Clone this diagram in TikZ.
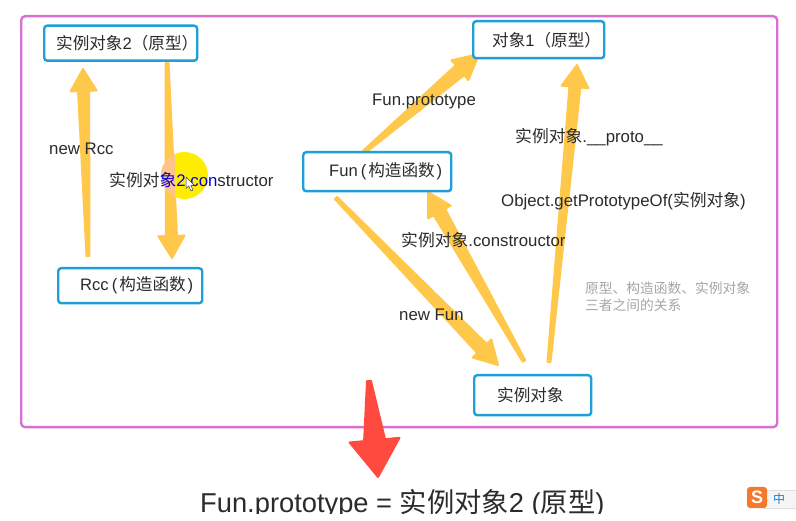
\documentclass[tikz,border=0pt]{standalone}
\usepackage{fontspec}
\setmainfont{Liberation Sans}
\newfontfamily\cjk{Noto Sans CJK SC}
\usetikzlibrary{calc}
\definecolor{frameC}{HTML}{D96FD3}
\definecolor{boxC}{HTML}{1E9FD8}
\definecolor{arrowC}{HTML}{FFC84B}
\definecolor{redC}{HTML}{FF4A3F}
\definecolor{txtC}{HTML}{2B2B2B}
\definecolor{grayC}{HTML}{A6A6A6}
\definecolor{sogouC}{HTML}{F4792B}
\newcommand{\taperarrow}[7]{%
  \coordinate (tb) at ($(#2)!#5!(#1)$);
  \fill[#7,draw=#7,line width=2pt,line join=round]
    ($(#1)!#3!90:(#2)$) -- ($(tb)!#4!90:(#2)$) -- ($(tb)!#6!90:(#2)$) -- (#2)
    -- ($(tb)!#6!-90:(#2)$) -- ($(tb)!#4!-90:(#2)$) -- ($(#1)!#3!-90:(#2)$) -- cycle;
}
\tikzset{
  box/.style args={#1/#2}{draw=boxC,line width=2.4pt,rounded corners=3pt,fill=white,
    minimum width=#1pt,minimum height=#2pt,inner xsep=0pt,inner ysep=0pt,
    text width=#1pt,align=left,anchor=north west,text=txtC,font=\fontsize{16.6}{18}\selectfont},
  lab/.style={anchor=west,inner sep=0pt,text=txtC,font=\fontsize{16.8}{18}\selectfont},
  note/.style={anchor=west,inner sep=0pt,text=grayC,font=\fontsize{13.75}{17}\selectfont},
}
\begin{document}
\begin{tikzpicture}[x=1pt,y=-1pt]
\useasboundingbox (0,0) rectangle (796,521);
\fill[white] (0,0) rectangle (796,521);
\node[draw=frameC,line width=2.4pt,rounded corners=4pt,minimum width=756pt,minimum height=411pt,anchor=north west,inner sep=0pt] (frame) at (20,15) {};

% arrow end points
\coordinate (a1) at (88,256);  \coordinate (a2) at (83,69);
\coordinate (b1) at (167,63);  \coordinate (b2) at (172,258);
\coordinate (c1) at (364,152); \coordinate (c2) at (479,54);
\coordinate (d1) at (336,198); \coordinate (d2) at (498,365);
\coordinate (e1) at (524,361); \coordinate (e2) at (428,192);
\coordinate (f1) at (549,362); \coordinate (f2) at (577,65);
\coordinate (r1) at (369,381); \coordinate (r2) at (378,477);

\taperarrow{a1}{a2}{1.5pt}{5.5pt}{22pt}{13pt}{arrowC}
\taperarrow{b1}{b2}{1.5pt}{5.5pt}{22pt}{13pt}{arrowC}
\taperarrow{c1}{c2}{1.5pt}{6.5pt}{25pt}{13pt}{arrowC}
\taperarrow{d1}{d2}{1.5pt}{6.5pt}{23pt}{13pt}{arrowC}
\taperarrow{e1}{e2}{1.5pt}{6.5pt}{23pt}{13pt}{arrowC}
\taperarrow{f1}{f2}{1.5pt}{5.5pt}{22pt}{13.5pt}{arrowC}
\taperarrow{r1}{r2}{2pt}{10.5pt}{37pt}{25pt}{redC}

% highlight circle
\fill[yellow!95!orange] (184.5,175.5) circle (23.5);
\begin{scope}
  \clip (150,150) rectangle (175,200);
  \fill[arrowC!45!pink] (184.5,175.5) circle (23.5);
\end{scope}

% boxes
\node[box=153/35] (inst2) at (43,24.5) {\hspace*{12pt}{\cjk 实例对象}2{\cjk （原型）}};
\node[box=144/35] (rcc) at (57,267) {\hspace*{22pt}Rcc\hspace{3pt}({\hspace{2pt}\cjk 构造函数}\hspace{2pt})};
\node[box=131/37] (obj1) at (472,20) {\hspace*{19pt}{\cjk 对象}1{\cjk （原型）}};
\node[box=148/39] (fun) at (302,151) {\hspace*{26pt}Fun\hspace{3pt}({\hspace{2pt}\cjk 构造函数}\hspace{2pt})};
\node[box=117/40] (inst) at (473,374) {\hspace*{23pt}{\cjk 实例对象}};

% labels
\node[lab] (l1) at (49,148.5) {new Rcc};
\node[lab] (l2) at (109,180.5) {{\cjk 实例对}\textcolor{blue!85!black}{{\cjk 象}2.con}structor};
\node[lab] (l3) at (372,101.5) {Fun.prototype};
\node[lab] (l4) at (515,137.5) {{\cjk 实例对象}.\_\_proto\_\_};
\node[lab] (l5) at (501,201) {Object.getPrototypeOf({\cjk 实例对象})};
\node[lab] (l6) at (401,240.5) {{\cjk 实例对象}.constrouctor};
\node[lab] (l7) at (399,315) {new Fun};
\node[note,align=left] (n1) at (585,296.5) {{\cjk 原型、构造函数、实例对象}\\{\cjk 三者之间的关系}};

% mouse pointer
\fill[white,draw=black!75,line width=.5pt,line join=round]
  (186,177) -- (186,188.5) -- (188.8,186) -- (191,191) -- (193,190) -- (190.8,185.3) -- (194,185) -- cycle;

% bottom line, cut off by the lower edge of the capture
\begin{scope}
  \clip (0,480) rectangle (796,513);
  \node[anchor=base west,inner sep=0pt,text=txtC,font=\fontsize{27.3}{30}\selectfont] (bottom) at (200,512)
    {Fun.prototype = {\cjk 实例对象}2 ({\cjk 原型})};
\end{scope}

% input-method badge
\fill[gray!8,draw=gray!25,line width=.4pt] (764,490) rectangle (800,508);
\node[fill=sogouC,rounded corners=3pt,minimum width=20pt,minimum height=21pt,inner sep=0pt,text=white,font=\bfseries\fontsize{18}{18}\selectfont] (sg) at (757,497.5) {S};
\node[inner sep=0pt,text=boxC!80!blue,font=\cjk\fontsize{12}{12}\selectfont] (zh) at (779,498.5) {中};
\end{tikzpicture}
\end{document}
